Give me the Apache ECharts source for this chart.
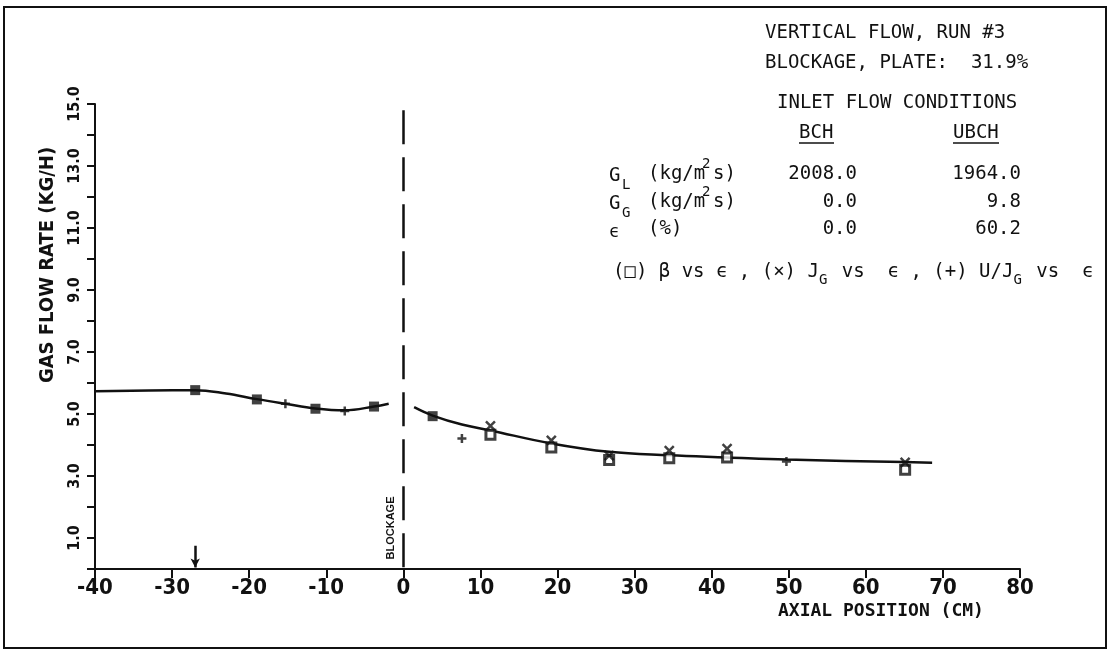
<!DOCTYPE html>
<html>
<head>
<meta charset="utf-8">
<script src="https://cdn.jsdelivr.net/npm/echarts@6/dist/echarts.min.js"></script>
<style>
html,body{margin:0;padding:0;background:#fff;}
#chart{width:1112px;height:656px;}
</style>
</head>
<body>
<div id="chart"></div>
<script>
// ---- data ----
const upstreamCurve = [[-40,5.73],[-33,5.76],[-27,5.77],[-23,5.66],[-19,5.48],[-15.3,5.33],[-11.4,5.18],[-7.6,5.12],[-3.8,5.24],[-1.9,5.33]];
const downstreamCurve = [[1.4,5.22],[3.8,4.95],[7.6,4.66],[11.3,4.47],[19.2,4.05],[26.7,3.78],[34.5,3.67],[42,3.60],[49.7,3.53],[65,3.45],[68.6,3.43]];
const coincidentPoints = [[-27,5.77],[-19,5.47],[-11.4,5.17],[-3.8,5.24],[3.8,4.93]];
const betaPoints = [[11.3,4.33],[19.2,3.92],[26.7,3.52],[34.5,3.57],[42,3.60],[65.1,3.20]];
const jgPoints = [[11.3,4.62],[19.2,4.15],[26.7,3.66],[34.5,3.82],[42,3.88],[65.1,3.44]];
const ujgPoints = [[-15.3,5.33],[-7.6,5.10],[7.6,4.21],[49.7,3.47]];
const blockageX = 0;
const blockageTop = 14.8;
const arrowX = -27;
const arrowTop = 0.75;
const xRange = [-40, 80];
const yRange = [0, 15];
const titleLines = ["VERTICAL FLOW, RUN #3", "BLOCKAGE, PLATE:  31.9%"];
const tableHeader = "INLET FLOW CONDITIONS";
const columnNames = ["BCH", "UBCH"];
const bchValues = ["2008.0", "0.0", "0.0"];
const ubchValues = ["1964.0", "9.8", "60.2"];

const chart = echarts.init(document.getElementById('chart'));
const MONO = "'DejaVu Sans Mono', monospace";
const BLACK = '#111';

function txt(x, y, text, size, opts) {
  opts = opts || {};
  return {
    type: 'text', x: x, y: y, rotation: opts.rotation || 0, z: 100,
    style: {
      text: text,
      fill: BLACK,
      font: (opts.weight || 'normal') + ' ' + size + 'px ' + (opts.family || MONO),
      align: opts.align || 'left', textAlign: opts.align || 'left',
      verticalAlign: 'middle', textVerticalAlign: 'middle'
    }
  };
}

const cw = 11.44; // monospace advance at 19px
const legendX = 613, legendY = 272;
const graphics = [
  { type: 'rect', shape: { x: 4, y: 7, width: 1102, height: 641 }, style: { fill: 'none', stroke: BLACK, lineWidth: 2 }, z: 100 },
  txt(765, 33, titleLines[0], 19),
  txt(765, 63, titleLines[1], 19),
  txt(777, 103, tableHeader, 19),
  txt(799, 133, columnNames[0], 19),
  txt(953, 133, columnNames[1], 19),
  { type: 'line', shape: { x1: 799, y1: 143, x2: 834, y2: 143 }, style: { stroke: BLACK, lineWidth: 1.5 }, z: 100 },
  { type: 'line', shape: { x1: 953, y1: 143, x2: 999, y2: 143 }, style: { stroke: BLACK, lineWidth: 1.5 }, z: 100 },
  // G_L row
  txt(609, 176, 'G', 19), txt(622, 185, 'L', 14),
  txt(648, 174, '(kg/m', 19), txt(702, 164, '2', 14), txt(713, 174, 's)', 19),
  // G_G row
  txt(609, 204, 'G', 19), txt(622, 213, 'G', 14),
  txt(648, 202, '(kg/m', 19), txt(702, 192, '2', 14), txt(713, 202, 's)', 19),
  // epsilon row
  txt(609, 233, 'ϵ', 17), txt(648, 229, '(%)', 19),
  txt(857, 174, bchValues[0], 19, { align: 'right' }),
  txt(857, 202, bchValues[1], 19, { align: 'right' }),
  txt(857, 229, bchValues[2], 19, { align: 'right' }),
  txt(1021, 174, ubchValues[0], 19, { align: 'right' }),
  txt(1021, 202, ubchValues[1], 19, { align: 'right' }),
  txt(1021, 229, ubchValues[2], 19, { align: 'right' }),
  // symbol key
  txt(legendX, legendY, '(□) β vs ϵ , (×) J', 19),
  txt(legendX + 18 * cw, legendY + 8, 'G', 14),
  txt(legendX + 19 * cw, legendY, ' vs  ϵ , (+) U/J', 19),
  txt(legendX + 35 * cw, legendY + 8, 'G', 14),
  txt(legendX + 36 * cw, legendY, ' vs  ϵ', 19),
  // axis names
  txt(48, 265, 'GAS FLOW RATE (KG/H)', 20, { rotation: Math.PI / 2, align: 'center', weight: 'bold', family: "'DejaVu Sans Condensed','DejaVu Sans',sans-serif" }),
  txt(778, 611, 'AXIAL POSITION (CM)', 18, { weight: 'bold', family: "'DejaVu Sans Mono',monospace" }),
  txt(391, 528, 'BLOCKAGE', 11, { rotation: Math.PI / 2, align: 'center', weight: 'bold', family: "'Liberation Sans',sans-serif" })
];

const xSym = 'path://M0,0L10,10M10,0L0,10';
const plusSym = 'path://M5,0L5,10M0,5L10,5';

const option = {
  animation: false,
  backgroundColor: '#fff',
  grid: { left: 95, right: 92, top: 104, bottom: 87 },
  xAxis: {
    type: 'value', min: xRange[0], max: xRange[1], interval: 10,
    axisLine: { lineStyle: { color: BLACK, width: 2 } },
    axisTick: { length: 9, lineStyle: { color: BLACK, width: 2 } },
    splitLine: { show: false },
    axisLabel: { color: BLACK, fontSize: 22, fontWeight: 'bold', fontFamily: "'Liberation Sans Narrow','DejaVu Sans Condensed',sans-serif", margin: 8 }
  },
  yAxis: {
    type: 'value', min: yRange[0], max: yRange[1], interval: 1,
    axisLine: { onZero: false, lineStyle: { color: BLACK, width: 2 } },
    axisTick: { length: 8, lineStyle: { color: BLACK, width: 2 } },
    splitLine: { show: false },
    axisLabel: {
      color: BLACK, fontSize: 16, fontWeight: 'bold', rotate: 90, margin: 12,
      fontFamily: "'Liberation Sans Narrow','DejaVu Sans Condensed',sans-serif",
      formatter: v => (Math.round(v) % 2 === 1 ? v.toFixed(1) : '')
    }
  },
  graphic: graphics,
  series: [
    {
      name: 'upstream fit', type: 'line', data: upstreamCurve, smooth: 0.4, showSymbol: false,
      lineStyle: { color: BLACK, width: 2.5 }, z: 2,
      markLine: {
        silent: true, symbol: ['none', 'none'], label: { show: false },
        lineStyle: { color: BLACK, width: 2.5, type: [34, 13] },
        data: [[{ coord: [blockageX, blockageTop] }, { coord: [blockageX, 0] }]]
      }
    },
    {
      name: 'downstream fit', type: 'line', data: downstreamCurve, smooth: 0.4, showSymbol: false,
      lineStyle: { color: BLACK, width: 2.5 }, z: 2,
      markLine: {
        silent: true, symbol: ['none', 'arrow'], symbolSize: [7, 9], label: { show: false },
        lineStyle: { color: BLACK, width: 2.5, type: 'solid' },
        data: [[{ coord: [arrowX, arrowTop] }, { coord: [arrowX, 0.05] }]]
      }
    },
    {
      name: 'coincident', type: 'scatter', data: coincidentPoints, symbol: 'rect', symbolSize: 10,
      itemStyle: { color: BLACK }, z: 5
    },
    {
      name: 'β vs ϵ', type: 'scatter', data: betaPoints, symbol: 'rect', symbolSize: 9,
      itemStyle: { color: '#fff', borderColor: BLACK, borderWidth: 3 }, z: 5
    },
    {
      name: 'JG vs ϵ', type: 'scatter', data: jgPoints, symbol: xSym, symbolSize: 9,
      itemStyle: { color: 'none', borderColor: BLACK, borderWidth: 2.5 }, z: 5
    },
    {
      name: 'U/JG vs ϵ', type: 'scatter', data: ujgPoints, symbol: plusSym, symbolSize: 9,
      itemStyle: { color: 'none', borderColor: BLACK, borderWidth: 2.5 }, z: 5
    }
  ]
};
chart.setOption(option);
</script>
</body>
</html>
